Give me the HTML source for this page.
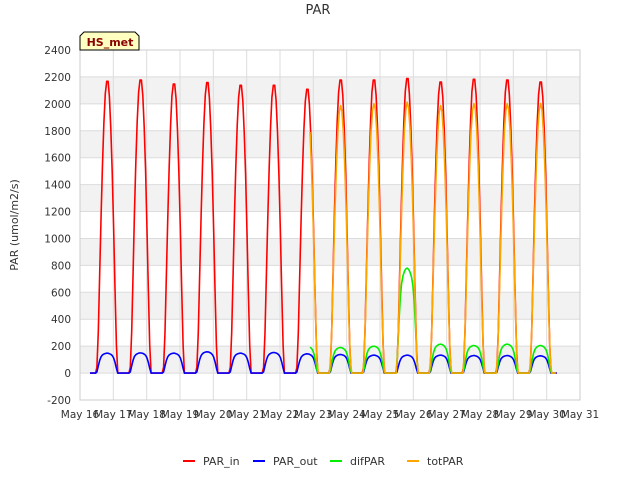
<!DOCTYPE html>
<html><head><meta charset="utf-8"><style>
body{margin:0;background:#fff;font-family:"Liberation Sans","DejaVu Sans",sans-serif}
svg text{font-family:"DejaVu Sans","Liberation Sans",sans-serif}
</style></head><body>
<svg id="c" width="640" height="480" xmlns="http://www.w3.org/2000/svg">
<rect width="640" height="480" fill="#fff"/>
<g id="grid"></g>
<g id="series"></g>
<g id="axes"></g>
<text x="318" y="14" font-size="13" fill="#333" text-anchor="middle">PAR</text>
<text transform="translate(18,225) rotate(-90)" font-size="11" fill="#333" text-anchor="middle">PAR (umol/m2/s)</text>
<g>
<path d="M80,50 L80,36 L84,32 L135,32 L139,36 L139,50 Z" fill="#ffffc0" stroke="#000" stroke-width="1"/>
<text x="110" y="46" font-size="11" font-weight="bold" fill="#8b0000" text-anchor="middle">HS_met</text>
</g>
<g id="legend"></g>
</svg>
<script>
const yTicks=[-200,0,200,400,600,800,1000,1200,1400,1600,1800,2000,2200,2400];
const xTickLabels=["May 16","May 17","May 18","May 19","May 20","May 21","May 22","May 23","May 24","May 25","May 26","May 27","May 28","May 29","May 30","May 31"];
const days=[16,17,18,19,20,21,22,23,24,25,26,27,28,29,30];
const parInPeaks=[2185,2195,2165,2175,2155,2155,2125,2195,2195,2205,2180,2200,2195,2180,0];
const parOutPeaks=[148,150,148,158,148,153,143,138,133,133,133,130,130,128,0];
const difParPeaks=[0,0,0,0,0,0,200,190,200,780,215,205,215,205,0];
const totParPeaks=[0,0,0,0,0,0,1990,1995,2010,2020,1995,2010,2010,2010,0];
const profile=[0,0.1,0.3,0.5,0.68,0.83,0.94,0.99,1.0,0.96,0.86,0.72,0.54,0.33,0.12,0];
const flatProfile=[0,0.3,0.6,0.8,0.9,0.95,0.98,1.0,1.0,0.98,0.95,0.9,0.8,0.6,0.3,0];
const tStart=16.3, tEnd=30.3, totStart=22.9;

const X0=80,X1=580,Y0=400,Y1=50;
const xs=d=>X0+(d-16)/15*(X1-X0);
const ys=v=>Y0-(v+200)/2600*(Y0-Y1);
const NS="http://www.w3.org/2000/svg";
function mk(tag,attrs,parent){const e=document.createElementNS(NS,tag);for(const k in attrs)e.setAttribute(k,attrs[k]);parent.appendChild(e);return e;}
const grid=document.getElementById('grid'),axes=document.getElementById('axes'),ser=document.getElementById('series'),leg=document.getElementById('legend');
for(let i=0;i<yTicks.length-1;i++){
  const a=yTicks[i],b=yTicks[i+1];
  if(a>=0 && (a/200)%2===0){const r=mk('rect',{x:X0,y:ys(b),width:X1-X0,height:ys(a)-ys(b),fill:'#f2f2f2'},grid);
  }
}
yTicks.forEach(v=>{
  const l=mk('line',{x1:X0,x2:X1,y1:ys(v),y2:ys(v),stroke:'#dcdcdc','stroke-width':1},grid);
  
  const t=mk('text',{x:X0-9,y:ys(v)+4,'font-size':10.5,fill:'#333','text-anchor':'end'},axes);
  t.textContent=v;
  
});
xTickLabels.forEach((s,i)=>{
  const x=xs(16+i);
  const l=mk('line',{x1:x,x2:x,y1:Y1,y2:Y0,stroke:'#dcdcdc','stroke-width':1},grid);
  
  const t=mk('text',{x:x,y:Y0+18,'font-size':10.5,fill:'#333','text-anchor':'middle'},axes);
  t.textContent=s;
  
});
const frame=mk('rect',{x:X0,y:Y1,width:X1-X0,height:Y0-Y1,fill:'none',stroke:'#ccc'},axes);


function buildPath(peaks,start,prof){
  const pts=[];
  for(let t=Math.max(start,tStart);t<=tEnd+1e-9;t+=0.25/6){
    let v=0;
    days.forEach((d,i)=>{
      const h=(t-d)*24-12;
      if(h>=0&&h<=15){const k=Math.floor(h),f=h-k;const a=prof[k],b=prof[Math.min(k+1,15)];v+=peaks[i]*(a+(b-a)*f);}
    });
    pts.push(xs(t).toFixed(1)+','+ys(v).toFixed(1));
  }
  return 'M'+pts.join('L');
}
const series=[
 {name:'PAR_in',color:'#ff0000',peaks:parInPeaks,start:tStart,prof:profile},
 {name:'PAR_out',color:'#0000ff',peaks:parOutPeaks,start:tStart,prof:flatProfile},
 {name:'difPAR',color:'#00ee00',peaks:difParPeaks,start:totStart,prof:flatProfile},
 {name:'totPAR',color:'#ffa500',peaks:totParPeaks,start:totStart,prof:profile}
];
series.forEach(s=>{
  const p=mk('path',{d:buildPath(s.peaks,s.start,s.prof),fill:'none',stroke:s.color,'stroke-width':1.6,'stroke-linejoin':'round'},ser);
  
  
});
const lx=[183,253,330,407];
series.forEach((s,i)=>{
  const g=mk('g',{},leg);
  
  
  mk('line',{x1:lx[i],x2:lx[i]+12,y1:461,y2:461,stroke:s.color,'stroke-width':2},g);
  const t=mk('text',{x:lx[i]+20,y:465,'font-size':11,fill:'#333'},g);
  t.textContent=s.name;
});
</script>
</body></html>
